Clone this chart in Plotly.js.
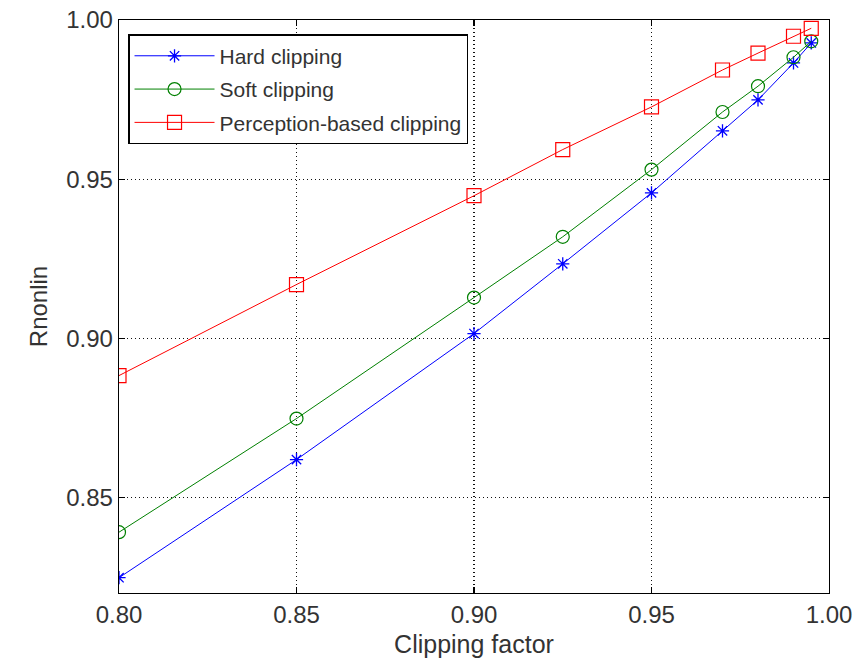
<!DOCTYPE html>
<html>
<head>
<meta charset="utf-8">
<script src="https://cdn.plot.ly/plotly-3.0.1.min.js"></script>
<style>
  html, body { margin: 0; padding: 0; background: #fff; }
  #chart { width: 868px; height: 661px; }
</style>
</head>
<body>
<div id="chart"></div>
<script>
// Clipping factor values on the x axis
const clippingFactor = [0.80, 0.85, 0.90, 0.925, 0.95, 0.97, 0.98, 0.99, 0.995];

// Rnonlin for each clipping method
const hardClipping = [0.8248, 0.8619, 0.9015, 0.9234, 0.9457, 0.9652, 0.9749, 0.9865, 0.9928];
const softClipping = [0.8391, 0.8748, 0.9128, 0.9319, 0.9530, 0.9711, 0.9792, 0.9883, 0.9933];
const perceptionClipping = [0.8883, 0.9169, 0.9448, 0.9593, 0.9727, 0.9843, 0.9896, 0.9949, 0.9974];

const seriesNames = ['Hard clipping', 'Soft clipping', 'Perception-based clipping'];
const xTicks = [0.80, 0.85, 0.90, 0.95, 1.00];
const yTicks = [0.85, 0.90, 0.95, 1.00];

const family = 'Liberation Sans, Arial, sans-serif';
const font = { family: family, size: 24, color: '#333' };
const titleFont = { family: family, size: 25, color: '#333' };

const traces = [
  {
    x: clippingFactor, y: hardClipping, name: seriesNames[0], legendgroup: 'a',
    mode: 'lines+markers', type: 'scatter',
    line: { color: '#0000ff', width: 1 },
    marker: { symbol: 'asterisk-open', size: 11, line: { color: '#0000ff', width: 1.3 } }
  },
  {
    x: clippingFactor, y: softClipping, name: seriesNames[1], legendgroup: 'b',
    mode: 'lines+markers', type: 'scatter',
    line: { color: '#008000', width: 1 },
    marker: { symbol: 'circle-open', size: 13, color: '#008000', line: { color: '#008000', width: 1.2 } }
  },
  {
    x: clippingFactor, y: perceptionClipping, name: seriesNames[2], legendgroup: 'c',
    mode: 'lines+markers', type: 'scatter',
    line: { color: '#ff0000', width: 1 },
    marker: { symbol: 'square-open', size: 14, color: '#ff0000', line: { color: '#ff0000', width: 1.2 } }
  }
];

const axisCommon = {
  showline: true, linecolor: '#000', linewidth: 1.3, mirror: 'ticks',
  ticks: 'inside', ticklen: 6, tickcolor: '#000', tickwidth: 1.3,
  showgrid: true, gridcolor: '#111', griddash: '1px,3px', gridwidth: 1.2,
  zeroline: false, tickfont: font
};

const layout = {
  width: 868, height: 661,
  margin: { l: 119, r: 39, t: 20, b: 68 },
  paper_bgcolor: '#fff', plot_bgcolor: '#fff',
  font: font,
  showlegend: true,
  legend: {
    x: 0.013, y: 0.975, xanchor: 'left', yanchor: 'top',
    bgcolor: '#fff', bordercolor: '#000', borderwidth: 1.3,
    font: { family: family, size: 21, color: '#333' },
    itemwidth: 80, traceorder: 'grouped', tracegroupgap: 3
  },
  xaxis: Object.assign({}, axisCommon, {
    range: [0.80, 1.00], tickvals: xTicks, ticktext: xTicks.map(v => v.toFixed(2)),
    title: { text: 'Clipping factor', font: titleFont, standoff: 8 }
  }),
  yaxis: Object.assign({}, axisCommon, {
    range: [0.82, 1.00], tickvals: yTicks, ticktext: yTicks.map(v => v.toFixed(2)),
    title: { text: 'Rnonlin', font: font, standoff: 11 }
  })
};

Plotly.newPlot('chart', traces, layout, { displayModeBar: false, staticPlot: true });
</script>
</body>
</html>
